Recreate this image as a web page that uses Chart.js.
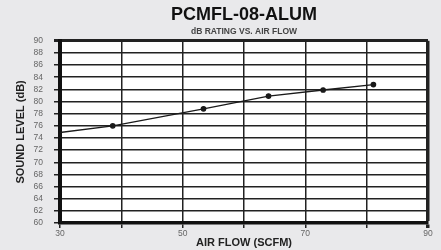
<!DOCTYPE html>
<html>
<head>
<meta charset="utf-8">
<script src="https://cdn.jsdelivr.net/npm/chart.js@4"></script>
<style>
  html, body { margin: 0; padding: 0; background: #e9e9eb; }
  #wrap { width: 441px; height: 250px; }
</style>
</head>
<body>
<div id="wrap"><canvas id="noiseChart" width="441" height="250"></canvas></div>
<script>
// values
const airFlow = [30, 38.6, 53.4, 64, 72.9, 81.1];
const soundLevel = [74.9, 76, 78.8, 80.9, 81.9, 82.8];
const pointSizes = [0, 2.2, 2.2, 2.2, 2.2, 2.2];
const xLabels = [30, 50, 70, 90];

const plotBg = {
    id: 'plotBg',
    beforeDraw(chart) {
        const a = chart.chartArea, c = chart.ctx;
        c.save();
        c.fillStyle = '#ffffff';
        c.fillRect(a.left, a.top, a.right - a.left, a.bottom - a.top);
        c.restore();
    }
};

const points = airFlow.map(function (x, i) { return { x: x, y: soundLevel[i] }; });

new Chart(document.getElementById('noiseChart').getContext('2d'), {
    type: 'scatter',
    data: {
        datasets: [{
            data: points,
            showLine: true,
            borderColor: '#1a1a1a',
            borderWidth: 1.3,
            backgroundColor: '#1a1a1a',
            pointRadius: pointSizes,
            pointHoverRadius: pointSizes
        }]
    },
    options: {
        responsive: false,
        animation: false,
        layout: { padding: { top: 2, right: 13, left: 14, bottom: 0 } },
        plugins: {
            legend: { display: false },
            tooltip: { enabled: false },
            title: {
                display: true,
                text: 'PCMFL-08-ALUM',
                fullSize: false,
                color: '#111',
                font: { family: 'Liberation Sans', size: 18, weight: 'bold' },
                padding: { top: 2, bottom: 1 }
            },
            subtitle: {
                display: true,
                text: 'dB RATING VS. AIR FLOW',
                fullSize: false,
                color: '#444',
                font: { family: 'Liberation Sans', size: 8.5, weight: 'bold' },
                padding: { top: 0, bottom: 4 }
            }
        },
        scales: {
            x: {
                type: 'linear',
                min: 30,
                max: 90,
                afterFit: function (s) { s.height = 27; },
                afterBuildTicks: function (s) {
                    s.ticks = [30, 40, 50, 60, 70, 80, 90].map(function (v) { return { value: v }; });
                },
                ticks: {
                    autoSkip: false,
                    maxRotation: 0,
                    color: '#666',
                    padding: 1,
                    font: { family: 'Liberation Sans', size: 8.5 },
                    callback: function (v) { return xLabels.includes(v) ? String(v) : ''; }
                },
                grid: {
                    color: '#222',
                    lineWidth: function (ctx) { return ctx.tick && ctx.tick.value === 90 ? 3.5 : 1.5; },
                    tickLength: 5,
                    tickColor: '#222'
                },
                border: { color: '#111', width: 3.5 },
                title: {
                    display: true,
                    text: 'AIR FLOW (SCFM)',
                    color: '#222',
                    padding: { top: -4, bottom: 0 },
                    font: { family: 'Liberation Sans', size: 11, weight: 'bold' }
                }
            },
            y: {
                min: 60,
                max: 90,
                afterFit: function (s) { s.width = 46; },
                ticks: {
                    stepSize: 2,
                    autoSkip: false,
                    color: '#666',
                    padding: 11,
                    font: { family: 'Liberation Sans', size: 8.5 }
                },
                grid: {
                    color: '#222',
                    lineWidth: function (ctx) { return ctx.tick && ctx.tick.value === 90 ? 3 : 1.5; },
                    tickLength: 6,
                    tickColor: '#222'
                },
                border: { color: '#111', width: 4 },
                title: {
                    display: true,
                    text: 'SOUND LEVEL (dB)',
                    color: '#222',
                    padding: { top: 0, bottom: 6 },
                    font: { family: 'Liberation Sans', size: 11, weight: 'bold' }
                }
            }
        }
    },
    plugins: [plotBg]
});
</script>
</body>
</html>
